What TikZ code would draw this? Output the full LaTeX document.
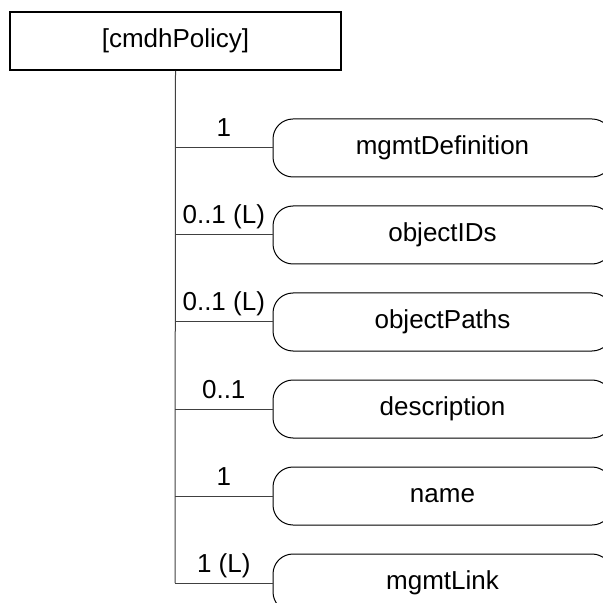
\documentclass[tikz,border=0pt]{standalone}
\usepackage{fontspec}
\setmainfont{Liberation Sans}
\usetikzlibrary{positioning}

\begin{document}
\begin{tikzpicture}[x=0.5pt, y=-0.5pt, font=\fontsize{13}{15}\selectfont,
    rootbox/.style={draw, line width=1pt, minimum width=165.5pt, minimum height=29pt},
    leafbox/.style={draw, line width=0.5pt, rounded corners=10pt, minimum width=169.5pt, minimum height=29pt},
    link/.style={draw=black!75, line width=0.5pt},
    card/.style={midway, anchor=base, yshift=5.5pt}]
    \clip (0,0) rectangle (603,603);

    \node[rootbox] (root) at (175.5,41) {[cmdhPolicy]};
    \coordinate (trunkend) at (175,583);
    \draw[link] (root.south) -- (trunkend);

    % child elements with their multiplicity
    \foreach \name/\card [count=\i from 0] in {mgmtDefinition/1, objectIDs/0..1 (L), objectPaths/0..1 (L), description/0..1, name/1, mgmtLink/1 (L)} {
        \node[leafbox] (leaf\i) at (442.5,{148+87*\i}) {\name};
        \coordinate (trunk\i) at (175,{148+87*\i});
        \draw[link] (trunk\i) -- node[card] {\card} (leaf\i.west);
    }
\end{tikzpicture}
\end{document}
